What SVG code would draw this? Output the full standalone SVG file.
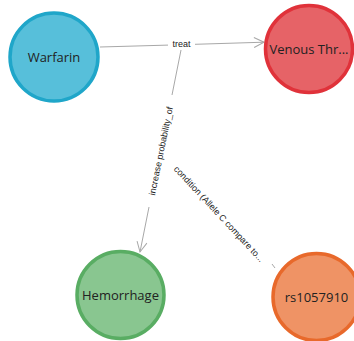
<svg xmlns="http://www.w3.org/2000/svg" width="354" height="341" viewBox="0 0 354 341">
<defs>
<style>
.edge{stroke:#a8a8a8;stroke-width:1;fill:none}
.elabel{font-family:"Liberation Sans",Arial,sans-serif;font-size:9px;fill:#222;text-anchor:middle;dominant-baseline:central}
.nlabel{font-family:"Open Sans","Liberation Sans",sans-serif;font-size:13px;fill:#222;text-anchor:middle;dominant-baseline:central}
.node{stroke-width:3.5}
</style>
<marker id="arrow" viewBox="0 0 12 12" refX="11" refY="6" markerWidth="12" markerHeight="12" markerUnits="userSpaceOnUse" orient="auto">
<path d="M1,1 L11,6 L1,11" fill="none" stroke="#a8a8a8" stroke-width="1"/>
</marker>
</defs>
<rect width="354" height="341" fill="#fff"/>
<g id="connectors">
<path class="edge" d="M100,47 L168,45.1"/>
<path class="edge" d="M195,44.3 L264,42.2" marker-end="url(#arrow)"/>
<path class="edge" d="M181,50 L172,95"/>
<path class="edge" d="M149,207 L140,252" marker-end="url(#arrow)"/>
<path class="edge" d="M272,264 L275,268"/>
<rect x="168" y="38" width="27" height="12" fill="#fff"/>
<text class="elabel" x="181.5" y="44">treat</text>
<text class="elabel" transform="translate(161,151) rotate(-78.5)">increase  probability_of</text>
<text class="elabel" transform="translate(219,214) rotate(47)">condition (Allele C compare to...</text>
</g>
<g id="node-warfarin">
<circle class="node" cx="54" cy="57" r="44" fill="#57bfda" stroke="#1fa6c9"/>
<text class="nlabel" x="54" y="57">Warfarin</text>
</g>
<g id="node-venous">
<circle class="node" cx="309" cy="49" r="43.5" fill="#e66367" stroke="#e0323a"/>
<text class="nlabel" x="309" y="49">Venous Thr...</text>
</g>
<g id="node-hemorrhage">
<circle class="node" cx="120.5" cy="295" r="43.5" fill="#89c690" stroke="#59ad63"/>
<text class="nlabel" x="120.5" y="295">Hemorrhage</text>
</g>
<g id="node-rs1057910">
<circle class="node" cx="316.5" cy="297" r="43.5" fill="#ef9365" stroke="#e8692b"/>
<text class="nlabel" x="316.5" y="297">rs1057910</text>
</g>
</svg>
